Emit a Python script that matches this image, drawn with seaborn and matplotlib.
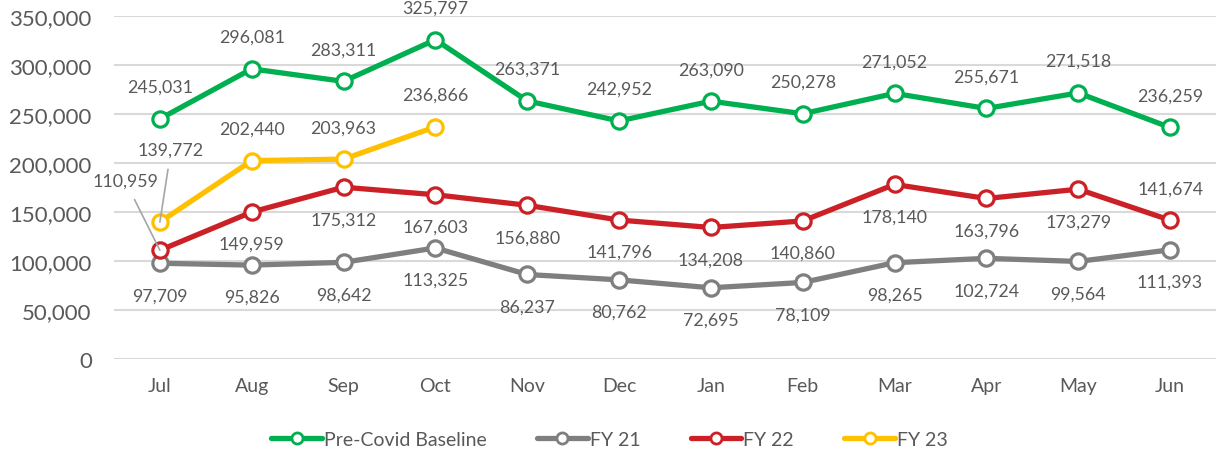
import pandas as pd
import matplotlib
matplotlib.use("Agg")
import matplotlib.pyplot as plt
import seaborn as sns
from matplotlib.lines import Line2D

months = ["Jul", "Aug", "Sep", "Oct", "Nov", "Dec", "Jan", "Feb", "Mar", "Apr", "May", "Jun"]
baseline = [245031, 296081, 283311, 325797, 263371, 242952, 263090, 250278, 271052, 255671, 271518, 236259]
fy21 = [97709, 95826, 98642, 113325, 86237, 80762, 72695, 78109, 98265, 102724, 99564, 111393]
fy22 = [110959, 149959, 175312, 167603, 156880, 141796, 134208, 140860, 178140, 163796, 173279, 141674]
fy23 = [139772, 202440, 203963, 236866]

series_names = ["Pre-Covid Baseline", "FY 21", "FY 22", "FY 23"]
series_values = [baseline, fy21, fy22, fy23]
colors = ["#00B050", "#7F7F7F", "#CC2027", "#FFC000"]
# label placement per point: 1 = above, -1 = below, 0 = leader line
label_side = [
    [1] * 12,
    [-1] * 12,
    [0, -1, -1, -1, -1, -1, -1, -1, -1, -1, -1, 1],
    [0, 1, 1, 1],
]

sns.set_style("white")
plt.rcParams["font.family"] = ["Lato", "DejaVu Sans"]
text_col = "#595959"

rows = []
for name, vals in zip(series_names, series_values):
    for i, v in enumerate(vals):
        rows.append({"series": name, "idx": i, "value": v})
df = pd.DataFrame(rows)

fig, ax = plt.subplots(figsize=(12.19, 4.56), dpi=100)
fig.subplots_adjust(left=0.0935, right=0.9975, bottom=0.2105, top=0.9627)

for name, col in zip(series_names, colors):
    sns.lineplot(data=df[df["series"] == name], x="idx", y="value", ax=ax,
                 color=col, linewidth=3.8, marker="o", markersize=11,
                 markerfacecolor="white", markeredgecolor=col, markeredgewidth=2.3,
                 sort=False, legend=False, zorder=3)

# data labels
for name, vals, sides in zip(series_names, series_values, label_side):
    for i, (v, s) in enumerate(zip(vals, sides)):
        if s == 0:
            continue
        ax.annotate(f"{v:,}", (i, v), xytext=(0, 23 * s), textcoords="offset points",
                    ha="center", va="center", fontsize=12.8, color=text_col, zorder=5)

# leader-line labels at Jul
ax.annotate(f"{fy22[0]:,}", (0, fy22[0]), xytext=(-25, 50), textcoords="offset points",
            ha="center", va="center", fontsize=12.8, color=text_col, zorder=5,
            arrowprops=dict(arrowstyle="-", color="#A6A6A6", lw=1.2, shrinkA=6, shrinkB=0))
ax.annotate(f"{fy23[0]:,}", (0, fy23[0]), xytext=(8, 52), textcoords="offset points",
            ha="center", va="center", fontsize=12.8, color=text_col, zorder=5,
            arrowprops=dict(arrowstyle="-", color="#A6A6A6", lw=1.2, shrinkA=6, shrinkB=0))

ax.set_xlim(-0.5, 11.5)
ax.set_ylim(0, 350000)
ax.set_xticks(range(len(months)))
ax.set_xticklabels(months)
ax.set_yticks(range(0, 350001, 50000))
ax.yaxis.set_major_formatter(matplotlib.ticker.FuncFormatter(lambda v, p: f"{int(v):,}"))
ax.tick_params(axis="y", labelsize=16, colors=text_col, length=0, pad=16)
ax.tick_params(axis="x", labelsize=14, colors=text_col, length=0, pad=13)
ax.set_xlabel("")
ax.set_ylabel("")
ax.grid(axis="y", color="#D9D9D9", linewidth=1.5, zorder=0)
ax.set_axisbelow(True)
for sp in ax.spines.values():
    sp.set_visible(False)

handles = [Line2D([0], [0], color=c, lw=3.8, marker="o", markersize=8,
                  markerfacecolor="white", markeredgecolor=c, markeredgewidth=2)
           for c in colors]
fig.legend(handles, series_names, loc="center", bbox_to_anchor=(0.5, 0.035), ncol=4,
           frameon=False, fontsize=14, handlelength=2.6, handletextpad=0.1,
           columnspacing=2.6, labelcolor=text_col)

fig.savefig("out.png", dpi=100)
